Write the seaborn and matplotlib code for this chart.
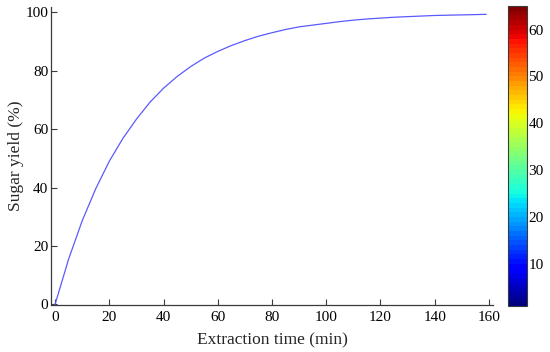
import matplotlib
matplotlib.use("Agg")
import matplotlib.pyplot as plt
import numpy as np
import pandas as pd
import seaborn as sns
from matplotlib.colors import ListedColormap, Normalize
from matplotlib.cm import ScalarMappable

# values
time_min = [0, 5, 10, 15, 20, 25, 30, 35, 40, 45, 50, 55, 60, 65, 70, 75, 80,
            85, 90, 95, 100, 105, 110, 115, 120, 125, 130, 135, 140, 145, 150,
            155, 159]
sugar_yield = [0, 15.5, 28.6, 39.6, 49.0, 56.8, 63.4, 69.2, 74.0, 78.0, 81.4,
               84.3, 86.6, 88.6, 90.3, 91.8, 93.0, 94.1, 95.0, 95.6, 96.2, 96.8,
               97.3, 97.7, 98.0, 98.3, 98.5, 98.7, 98.9, 99.0, 99.1, 99.2, 99.3]
x_ticks = [0, 20, 40, 60, 80, 100, 120, 140, 160]
y_ticks = [0, 20, 40, 60, 80, 100]
cbar_ticks = [10, 20, 30, 40, 50, 60]
cbar_range = (1, 65)

df = pd.DataFrame({"time": time_min, "yield": sugar_yield})

sns.set_style("white")
plt.rcParams["font.family"] = ["Liberation Serif", "DejaVu Serif"]
edge = "#3a3a3a"

fig = plt.figure(figsize=(5.5, 3.52), dpi=100)
ax = fig.add_axes([0.0927, 0.1335, 0.8036, 0.8466])

sns.lineplot(data=df, x="time", y="yield", ax=ax, color="#5a5aff",
             linewidth=0.9)

ax.set_xlim(-1.5, 161.5)
ax.set_ylim(-0.2, 101.8)
ax.set_xticks(x_ticks)
ax.set_yticks(y_ticks)
ax.set_xlabel("Extraction time (min)", fontsize=12.5, labelpad=6)
ax.set_ylabel("Sugar yield (%)", fontsize=12.5, labelpad=1)
ax.tick_params(bottom=True, left=True, direction="in", length=4, width=0.8,
               colors=edge, labelsize=11, labelcolor="black", pad=2)
ax.tick_params(axis="x", pad=4)
for side in ["top", "right"]:
    ax.spines[side].set_visible(False)
for side in ["left", "bottom"]:
    ax.spines[side].set_color(edge)
    ax.spines[side].set_linewidth(0.9)

# colour bar (jet, 64 levels)
cax = fig.add_axes([0.9236, 0.1307, 0.0345, 0.852])
jet64 = ListedColormap(plt.get_cmap("jet")(np.linspace(0, 1, 64)))
sm = ScalarMappable(norm=Normalize(*cbar_range), cmap=jet64)
cb = fig.colorbar(sm, cax=cax, ticks=cbar_ticks)
cb.outline.set_edgecolor(edge)
cb.outline.set_linewidth(0.8)
cax.tick_params(right=True, direction="in", length=3, width=0.8, colors=edge,
                labelsize=11, labelcolor="black", pad=1)

fig.savefig("out.png", dpi=100)
